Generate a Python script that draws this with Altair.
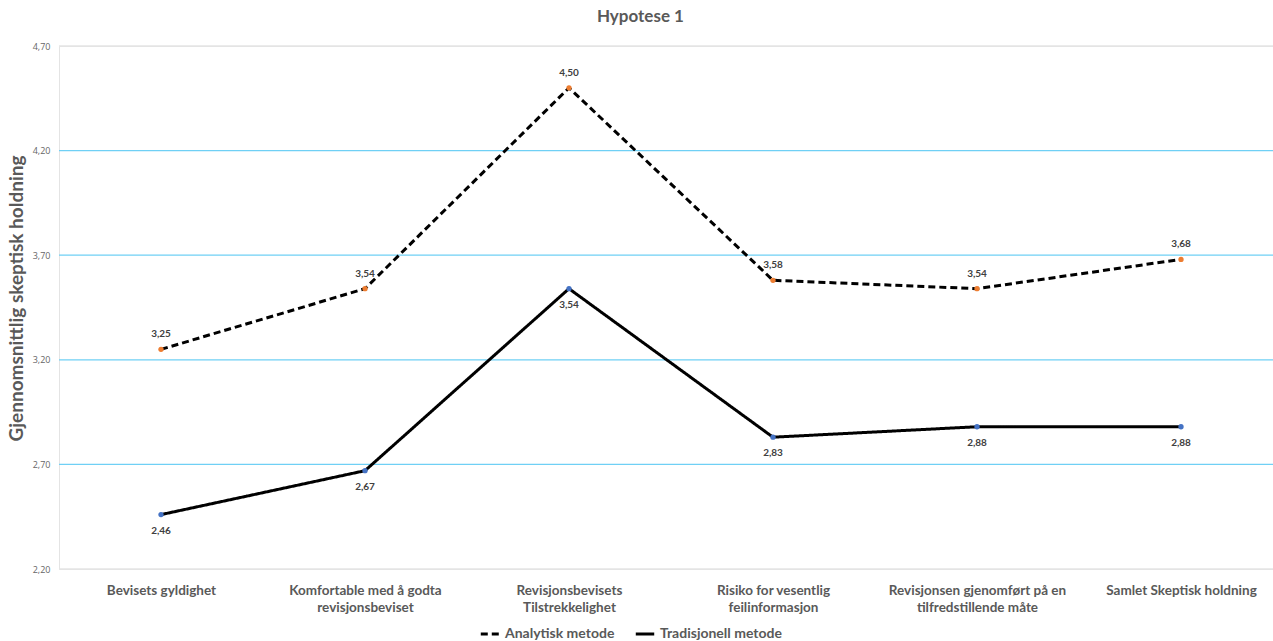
import altair as alt
import pandas as pd

categories = [
    "Bevisets gyldighet",
    "Komfortable med å godta|revisjonsbeviset",
    "Revisjonsbevisets|Tilstrekkelighet",
    "Risiko for vesentlig|feilinformasjon",
    "Revisjonsen gjenomført på en|tilfredstillende måte",
    "Samlet Skeptisk holdning",
]
analytisk = [3.25, 3.54, 4.50, 3.58, 3.54, 3.68]
tradisjonell = [2.46, 2.67, 3.54, 2.83, 2.88, 2.88]
series_names = ["Analytisk metode", "Tradisjonell metode"]
y_ticks = [2.2, 2.7, 3.2, 3.7, 4.2, 4.7]

rows = []
for c, v in zip(categories, analytisk):
    rows.append({"kategori": c, "verdi": v, "serie": series_names[0]})
for c, v in zip(categories, tradisjonell):
    rows.append({"kategori": c, "verdi": v, "serie": series_names[1]})
df = pd.DataFrame(rows)
grid_df = pd.DataFrame({"verdi": y_ticks})

FONT = "Lato"
GRAY = "#595959"
DOT_COLORS = ["#ED7D31", "#4472C4"]

x_enc = alt.X(
    "kategori:N",
    sort=categories,
    scale=alt.Scale(type="point", padding=0, range=[102, 1122]),
    axis=alt.Axis(
        title=None,
        labelExpr="split(datum.label, '|')",
        labelFont=FONT,
        labelFontSize=13.5,
        labelFontWeight="bold",
        labelColor=GRAY,
        labelPadding=14,
        labelAngle=0,
        labelLineHeight=17,
        ticks=False,
        domain=False,
        grid=False,
    ),
)
y_scale = alt.Scale(domain=[2.2, 4.7], nice=False, zero=False)
y_enc = alt.Y(
    "verdi:Q",
    scale=y_scale,
    axis=alt.Axis(
        title="Gjennomsnittlig skeptisk holdning",
        titleFont=FONT,
        titleFontSize=19,
        titleFontWeight="bold",
        titleColor=GRAY,
        titlePadding=6,
        titleY=252,
        values=y_ticks,
        labelExpr="replace(format(datum.value, '.2f'), '.', ',')",
        labelFont="Open Sans",
        labelFontSize=9,
        labelColor="#666666",
        labelPadding=9,
        ticks=False,
        domain=False,
        grid=False,
    ),
)

grid = alt.Chart(grid_df).mark_rule(strokeWidth=1.3).encode(
    y=alt.Y("verdi:Q", scale=y_scale),
    color=alt.condition(
        "datum.verdi < 2.3 || datum.verdi > 4.6",
        alt.value("#e4e4e4"),
        alt.value("#6fd0f5"),
    ),
)

base = alt.Chart(df).encode(x=x_enc, y=y_enc)

lines = base.mark_line(strokeWidth=3, color="black").encode(
    strokeDash=alt.StrokeDash(
        "serie:N",
        scale=alt.Scale(domain=series_names, range=[[7, 4], [1, 0]]),
        legend=alt.Legend(
            title=None,
            orient="none",
            direction="horizontal",
            legendX=420,
            legendY=577,
            symbolType="stroke",
            symbolStrokeColor="black",
            symbolStrokeWidth=3,
            symbolSize=340,
            labelFont=FONT,
            labelFontSize=14,
            labelFontWeight="bold",
            labelColor=GRAY,
            columnPadding=14,
        ),
    )
)

points = base.mark_circle(size=28, opacity=1).encode(
    color=alt.Color(
        "serie:N",
        scale=alt.Scale(domain=series_names, range=DOT_COLORS),
        legend=None,
    )
)

lbl = base.transform_calculate(
    lab="replace(format(datum.verdi, '.2f'), '.', ',')"
)
labels_a = lbl.transform_filter(alt.datum.serie == series_names[0]).mark_text(
    dy=-15, font=FONT, fontSize=10, fontWeight="bold", color="#404040"
).encode(text="lab:N")
labels_t = lbl.transform_filter(alt.datum.serie == series_names[1]).mark_text(
    dy=16, font=FONT, fontSize=10, fontWeight="bold", color="#404040"
).encode(text="lab:N")

chart = (
    alt.layer(grid, lines, points, labels_a, labels_t)
    .properties(
        width=1214,
        height=523,
        title=alt.TitleParams(
            "Hypotese 1",
            font=FONT,
            fontSize=17,
            fontWeight="bold",
            color=GRAY,
            anchor="middle",
            frame="bounds",
            offset=16,
        ),
        autosize=alt.AutoSizeParams(type="none"),
        padding={"left": 59, "top": 46, "right": 0, "bottom": 72},
        background="white",
    )
    .configure_view(stroke="#e4e4e4", strokeWidth=1)
)

chart.save("out.html", embed_options={"renderer": "svg", "actions": False})
